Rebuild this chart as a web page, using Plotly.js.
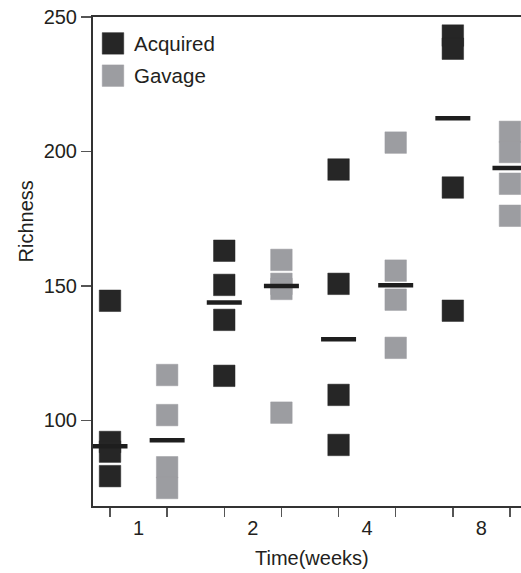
<!DOCTYPE html>
<html>
<head>
<meta charset="utf-8">
<script src="https://cdn.plot.ly/plotly-3.0.1.min.js"></script>
<style>html,body{margin:0;padding:0;background:#fff;}#chart{width:521px;height:573px;}</style>
</head>
<body>
<div id="chart"></div>
<script>
// ---- data ----
var weeks = ['1', '2', '4', '8'];
var acquiredW1 = [144.5, 92.0, 88.4, 79.3];
var acquiredW2 = [163.1, 150.4, 137.4, 116.6];
var acquiredW4 = [193.3, 150.8, 109.5, 90.9];
var acquiredW8 = [243.1, 238.2, 186.6, 140.8];
var gavageW1 = [116.9, 102.0, 82.6, 74.9];
var gavageW2 = [159.7, 150.8, 148.9, 102.9];
var gavageW4 = [203.3, 155.7, 144.9, 127.0];
var gavageW8 = [207.3, 199.8, 188.0, 176.1];
var acquiredMedian = [90.4, 143.9, 130.2, 212.4];
var gavageMedian = [92.6, 150.0, 150.3, 193.9];
var groupNames = ['Acquired', 'Gavage'];
var yTicks = [100, 150, 200, 250];

var acquired = [acquiredW1, acquiredW2, acquiredW4, acquiredW8];
var gavage = [gavageW1, gavageW2, gavageW4, gavageW8];

var DARK = '#262626';
var GRAY = '#9c9da1';
var TXT = '#231f20';
var FONT = 'Liberation Sans, Arial, Helvetica, sans-serif';

function pts(groups, offset) {
  var x = [], y = [];
  groups.forEach(function (vals, i) {
    vals.forEach(function (v) { x.push(2 * i + offset); y.push(v); });
  });
  return {x: x, y: y};
}
var a = pts(acquired, 0), g = pts(gavage, 1);
var slotsA = weeks.map(function (w, i) { return 2 * i; });
var slotsG = weeks.map(function (w, i) { return 2 * i + 1; });

var traces = [
  {x: a.x, y: a.y, type: 'scatter', mode: 'markers', name: groupNames[0],
   marker: {symbol: 'square', size: 21.5, color: DARK, line: {width: 0.5, color: DARK}}, showlegend: false},
  {x: g.x, y: g.y, type: 'scatter', mode: 'markers', name: groupNames[1],
   marker: {symbol: 'square', size: 21.5, color: GRAY, line: {width: 0.5, color: GRAY}}, showlegend: false},
  {x: slotsA, y: acquiredMedian, type: 'scatter', mode: 'markers', showlegend: false,
   marker: {symbol: 'line-ew', size: 25, color: '#1e1e1e', line: {width: 4.5, color: '#1e1e1e'}}},
  {x: slotsG, y: gavageMedian, type: 'scatter', mode: 'markers', showlegend: false,
   marker: {symbol: 'line-ew', size: 25, color: '#1e1e1e', line: {width: 4.5, color: '#1e1e1e'}}},
  // dummy trace to activate the label axis
  {x: [0.5], y: [null], xaxis: 'x2', yaxis: 'y', type: 'scatter', mode: 'markers', showlegend: false, hoverinfo: 'skip'},
  // custom legend symbols
  {x: [0.0467, 0.0467], y: [0.946, 0.880], xaxis: 'x3', yaxis: 'y3', type: 'scatter', mode: 'markers',
   showlegend: false, hoverinfo: 'skip',
   marker: {symbol: 'square', size: 21.5, color: [DARK, GRAY], line: {width: 0.5, color: [DARK, GRAY]}}}
];

var layout = {
  width: 521, height: 573,
  margin: {l: 93, r: 0, t: 17.4, b: 67.3},
  paper_bgcolor: '#fff', plot_bgcolor: '#fff',
  font: {family: FONT, size: 20, color: TXT},
  showlegend: false,
  xaxis: {
    range: [-0.2975, 7.193], tickvals: [0, 1, 2, 3, 4, 5, 6, 7],
    ticktext: ['', '', '', '', '', '', '', ''],
    ticks: 'outside', ticklen: 9, tickwidth: 1.5, tickcolor: '#555',
    showline: true, linecolor: '#333', linewidth: 1.8, mirror: true,
    showgrid: false, zeroline: false
  },
  xaxis2: {
    overlaying: 'x', anchor: 'y', side: 'bottom', range: [-0.2975, 7.193],
    tickvals: [0.5, 2.5, 4.5, 6.5], ticktext: weeks,
    ticks: 'outside', ticklen: 4, tickcolor: 'rgba(0,0,0,0)',
    showline: false, showgrid: false, zeroline: false,
    tickfont: {family: FONT, size: 20, color: TXT}
  },
  yaxis: {
    range: [68.2, 250], tickvals: yTicks,
    ticks: 'outside', ticklen: 10, tickwidth: 1.5, tickcolor: '#555',
    showline: true, linecolor: '#333', linewidth: 2,
    showgrid: false, zeroline: false,
    tickfont: {family: FONT, size: 20, color: TXT}
  },
  xaxis3: {overlaying: 'x', range: [0, 1], anchor: 'y3', visible: false},
  yaxis3: {overlaying: 'y', range: [0, 1], anchor: 'x3', visible: false},
  annotations: [
    {text: 'Richness', xref: 'paper', yref: 'paper', x: -0.1577, y: 0.581, textangle: -90,
     showarrow: false, xanchor: 'center', yanchor: 'middle', font: {family: FONT, size: 20, color: TXT}},
    {text: 'Time(weeks)', xref: 'paper', yref: 'paper', x: 0.511, y: -0.107,
     showarrow: false, xanchor: 'center', yanchor: 'middle', font: {family: FONT, size: 20, color: TXT}},
    {text: groupNames[0], xref: 'paper', yref: 'paper', x: 0.0905, y: 0.946,
     showarrow: false, xanchor: 'left', yanchor: 'middle', font: {family: FONT, size: 20.5, color: TXT}},
    {text: groupNames[1], xref: 'paper', yref: 'paper', x: 0.0905, y: 0.880,
     showarrow: false, xanchor: 'left', yanchor: 'middle', font: {family: FONT, size: 20.5, color: TXT}}
  ]
};

Plotly.newPlot('chart', traces, layout, {displayModeBar: false, staticPlot: true});
</script>
</body>
</html>
